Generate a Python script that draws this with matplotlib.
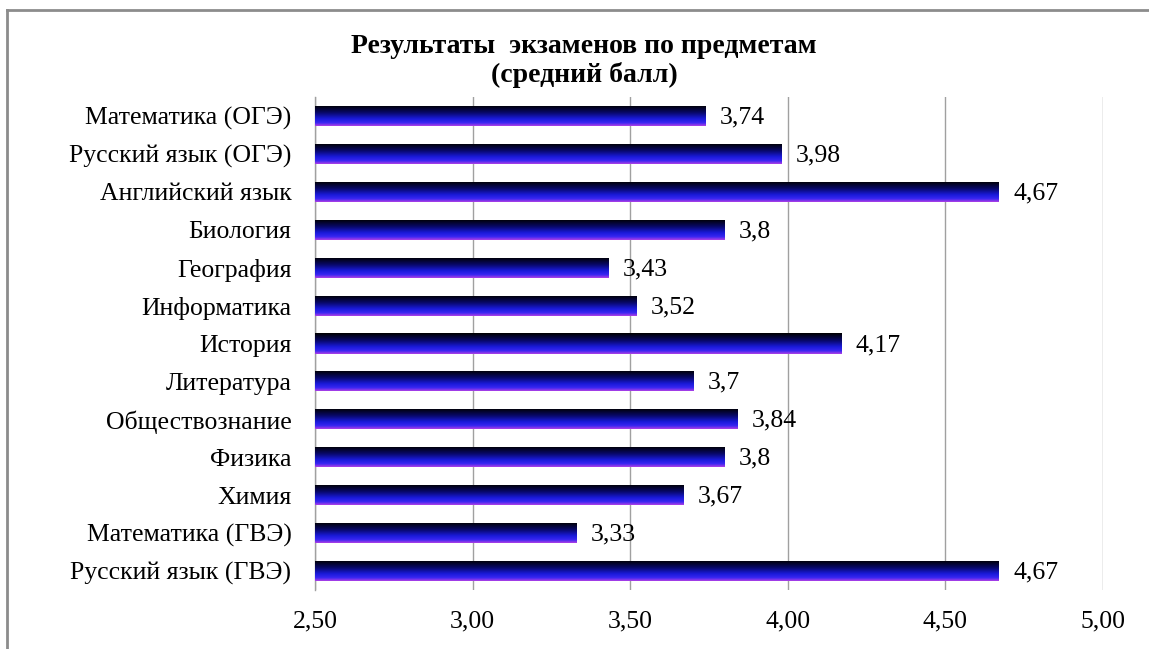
import matplotlib
matplotlib.use("Agg")
import matplotlib.pyplot as plt
import numpy as np
from matplotlib.colors import LinearSegmentedColormap
from matplotlib.lines import Line2D

categories = ["Математика (ОГЭ)", "Русский язык (ОГЭ)", "Английский язык", "Биология",
              "География", "Информатика", "История", "Литература", "Обществознание",
              "Физика", "Химия", "Математика (ГВЭ)", "Русский язык (ГВЭ)"]
values = [3.74, 3.98, 4.67, 3.8, 3.43, 3.52, 4.17, 3.7, 3.84, 3.8, 3.67, 3.33, 4.67]
xticks = [2.5, 3.0, 3.5, 4.0, 4.5, 5.0]
xtick_labels = ["2,50", "3,00", "3,50", "4,00", "4,50", "5,00"]
title = "Результаты  экзаменов по предметам\n(средний балл)"

plt.rcParams['font.family'] = ['Liberation Serif', 'DejaVu Serif']

W, H = 1149, 649
fig = plt.figure(figsize=(W / 100, H / 100), dpi=100)

# outer frame (top and left visible)
fig.add_artist(Line2D([7 / W, 7 / W], [0, 1 - 10 / H], transform=fig.transFigure,
                      color='#8c8c8c', lw=2))
fig.add_artist(Line2D([7 / W, 1], [1 - 10 / H, 1 - 10 / H], transform=fig.transFigure,
                      color='#8c8c8c', lw=2))

ax = fig.add_axes([315 / W, 59 / H, (1103 - 315) / W, (590 - 97) / H])
y = np.arange(len(categories))
bars = ax.barh(y, [v - xticks[0] for v in values], left=xticks[0], height=0.53,
               color='none', edgecolor='none', zorder=3)

cmap = LinearSegmentedColormap.from_list('grad', [
    (0.0, (0.0, 0.0, 0.0)),
    (0.35, (0.03, 0.03, 0.40)),
    (0.65, (0.10, 0.10, 0.85)),
    (0.85, (0.22, 0.15, 0.95)),
    (1.0, (0.68, 0.25, 0.90)),
])
grad = np.linspace(0, 1, 64).reshape(-1, 1)
for b in bars:
    x0, y0, w, h = b.get_x(), b.get_y(), b.get_width(), b.get_height()
    im = ax.imshow(grad, cmap=cmap, aspect='auto', origin='upper',
                   extent=(x0, x0 + w, y0 + h, y0), zorder=3, interpolation='bilinear')
    im.set_clip_path(b)

for yi, v in zip(y, values):
    ax.text(v + 0.045, yi + 0.04, str(v).replace('.', ','), va='center', ha='left',
            fontsize=18.5, color='black', zorder=4)

ax.set_xlim(xticks[0], xticks[-1])
ax.set_ylim(len(categories) - 0.5, -0.5)
ax.set_xticks(xticks)
ax.set_xticklabels(xtick_labels)
ax.set_yticks(y)
ax.set_yticklabels(categories)
ax.tick_params(axis='both', length=0, labelsize=18.5)
ax.tick_params(axis='y', pad=17)
ax.tick_params(axis='x', pad=15)
ax.grid(axis='x', color='#a0a0a0', lw=1, zorder=0)
ax.set_axisbelow(True)
for s in ['top', 'right', 'bottom']:
    ax.spines[s].set_visible(False)
ax.spines['left'].set_color('#a0a0a0')
ax.spines['left'].set_linewidth(1)

fig.text(584 / W, 1 - 61 / H, title, ha='center', va='center', fontsize=20,
         fontweight='bold', linespacing=1.15)

fig.savefig('out.png', dpi=100, facecolor='white')
